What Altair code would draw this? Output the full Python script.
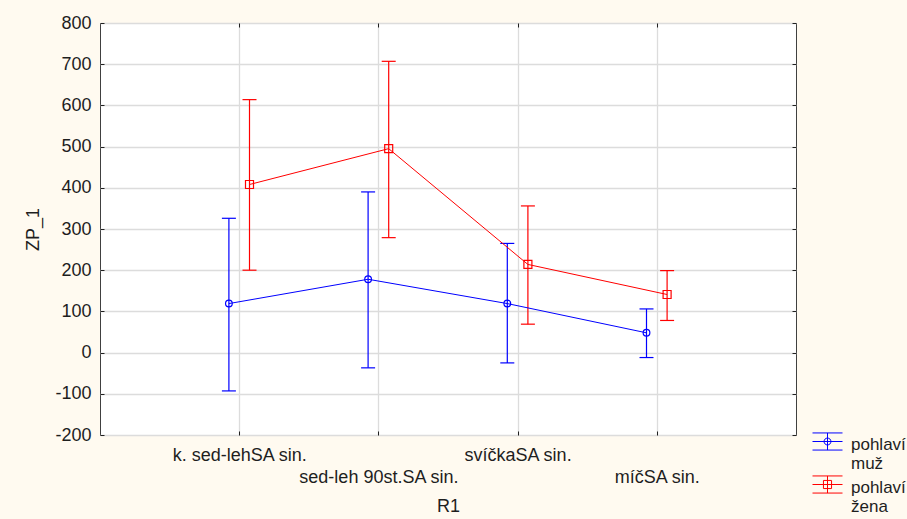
import json

import altair as alt
import pandas as pd

# Category labels of factor R1 and the two sex groups
categories = ["k. sed-lehSA sin.", "sed-leh 90st.SA sin.", "svíčkaSA sin.", "míčSA sin."]
groups = ["muž", "žena"]

# Means of ZP_1 with lower / upper interval limits
mean_muz = [119, 178, 119, 48]
low_muz = [-93, -37, -25, -12]
high_muz = [326, 390, 265, 106]

mean_zena = [408, 495, 214, 141]
low_zena = [200, 279, 69, 78]
high_zena = [614, 707, 356, 199]

# small horizontal nudge so the two groups sit side by side at each category
nudge = {"muž": -0.074, "žena": 0.074}

rows = []
for g, means, lows, highs in [
    ("muž", mean_muz, low_muz, high_muz),
    ("žena", mean_zena, low_zena, high_zena),
]:
    for i, (c, m, lo, hi) in enumerate(zip(categories, means, lows, highs), start=1):
        rows.append({"group": g, "category": c, "pos": i + nudge[g],
                     "mean": m, "low": lo, "high": hi})
df = pd.DataFrame(rows)

FONT = "Liberation Sans"
FS = 18
TXT = "#1e1e1e"

x_scale = alt.Scale(domain=[0, 5], nice=False, zero=False)
y_scale = alt.Scale(domain=[-200, 800], nice=False, zero=False)
color_scale = alt.Scale(domain=groups, range=["#0000FF", "#FF0000"])
y_ticks = list(range(-200, 801, 100))

# legend glyphs: whisker caps, connecting line, error bar and the group marker
# (raised slightly so it sits beside the first label line)
circle_glyph = ("M-1,-0.77L1,-0.77M-1,-0.2L1,-0.2M-1,0.37L1,0.37M0,-0.77L0,0.37"
                "M-0.23,-0.2A0.23,0.23 0 1,0 0.23,-0.2A0.23,0.23 0 1,0 -0.23,-0.2")
square_glyph = ("M-1,-0.77L1,-0.77M-1,-0.2L1,-0.2M-1,0.37L1,0.37M0,-0.77L0,0.37"
                "M-0.27,-0.47L0.27,-0.47L0.27,0.07L-0.27,0.07Z")

# odd categories on the first label row, even ones on the second
label_expr = (f"datum.value % 2 == 0 ? ['', {json.dumps(categories)}[datum.value - 1]]"
              f" : {json.dumps(categories)}[datum.value - 1]")

base = alt.Chart(df)
color_nl = alt.Color("group:N", scale=color_scale, legend=None)


def inner_ticks(orient, values):
    return alt.Axis(orient=orient, values=values, labels=False, domain=False,
                    grid=False, ticks=True, tickSize=4, tickColor="#202020",
                    tickWidth=1, offset=-4, title=None)


# carrier of the legend only (marks themselves are transparent)
legend_layer = base.mark_point(filled=False, opacity=0).encode(
    x=alt.X("pos:Q", scale=x_scale, axis=None),
    y=alt.Y("mean:Q", scale=y_scale, axis=None),
    color=alt.Color("group:N", scale=color_scale,
                    legend=alt.Legend(orient="none", legendX=712, legendY=406, title=None,
                                      labelExpr="['pohlaví', datum.label]",
                                      labelFont=FONT, labelFontSize=17, labelColor=TXT,
                                      labelBaseline="middle",
                                      labelOffset=8, symbolSize=900, symbolStrokeWidth=1,
                                      symbolOpacity=1, padding=0, rowPadding=0,
                                      labelLimit=200)),
    shape=alt.Shape("group:N", scale=alt.Scale(domain=groups,
                                               range=[circle_glyph, square_glyph])),
)

# error bars (carry the main axes and grid)
bars = base.mark_rule(strokeWidth=1.2).encode(
    x=alt.X("pos:Q", scale=x_scale,
            axis=alt.Axis(orient="bottom", values=[1, 2, 3, 4], labelExpr=label_expr,
                          labelOverlap=False, grid=True, gridColor="#dcdcdc",
                          gridWidth=1.3, ticks=False, domain=False, labelPadding=11,
                          labelLineHeight=22, labelFontSize=FS, labelFont=FONT,
                          labelColor=TXT, labelBaseline="top", title="R1",
                          titleFont=FONT, titleFontSize=FS, titleFontWeight="normal",
                          titleColor=TXT, titlePadding=11)),
    y=alt.Y("low:Q", scale=y_scale,
            axis=alt.Axis(orient="left", values=y_ticks, grid=True, gridColor="#dcdcdc",
                          gridWidth=1.3, ticks=False, domain=False, labelPadding=9,
                          labelExpr="'' + datum.value", labelOverlap=False,
                          labelFontSize=FS, labelFont=FONT, labelColor=TXT,
                          title="ZP_1", titleFont=FONT, titleFontSize=FS,
                          titleFontWeight="normal", titleColor=TXT, titlePadding=12)),
    y2="high:Q",
    color=color_nl,
)

# whisker caps at both ends
caps_low = base.mark_point(shape="stroke", size=196, strokeWidth=1.2, opacity=1).encode(
    x=alt.X("pos:Q", scale=x_scale, axis=inner_ticks("bottom", [1, 2, 3, 4])),
    y=alt.Y("low:Q", scale=y_scale, axis=inner_ticks("left", y_ticks)),
    color=color_nl,
)
caps_high = base.mark_point(shape="stroke", size=196, strokeWidth=1.2, opacity=1).encode(
    x=alt.X("pos:Q", scale=x_scale, axis=inner_ticks("top", [1, 2, 3, 4])),
    y=alt.Y("high:Q", scale=y_scale, axis=inner_ticks("right", y_ticks)),
    color=color_nl,
)

# connecting lines through the means
lines = base.mark_line(strokeWidth=1).encode(
    x=alt.X("pos:Q", scale=x_scale, axis=None),
    y=alt.Y("mean:Q", scale=y_scale, axis=None),
    color=color_nl,
    order="pos:Q",
)

# mean markers: open circle for muž, open square for žena
markers_muz = base.transform_filter(alt.datum.group == "muž").mark_point(
    shape="circle", size=45, filled=False, strokeWidth=1.2, opacity=1
).encode(
    x=alt.X("pos:Q", scale=x_scale, axis=None),
    y=alt.Y("mean:Q", scale=y_scale, axis=None),
    color=color_nl,
)
markers_zena = base.transform_filter(alt.datum.group == "žena").mark_point(
    shape="square", size=64, filled=False, strokeWidth=1.2, opacity=1
).encode(
    x=alt.X("pos:Q", scale=x_scale, axis=None),
    y=alt.Y("mean:Q", scale=y_scale, axis=None),
    color=color_nl,
)

chart = (
    alt.layer(legend_layer, bars, caps_low, caps_high, lines, markers_muz, markers_zena)
    .resolve_axis(x="independent", y="independent")
    .properties(
        width=696,
        height=412,
        autosize=alt.AutoSizeParams(type="none"),
        padding={"left": 100, "top": 23, "right": 111, "bottom": 84},
        background="#FFFAF0",
    )
    .configure_view(fill="white", stroke="#404040", strokeWidth=1)
)

chart.save("out.html", embed_options={"renderer": "svg", "actions": False})
